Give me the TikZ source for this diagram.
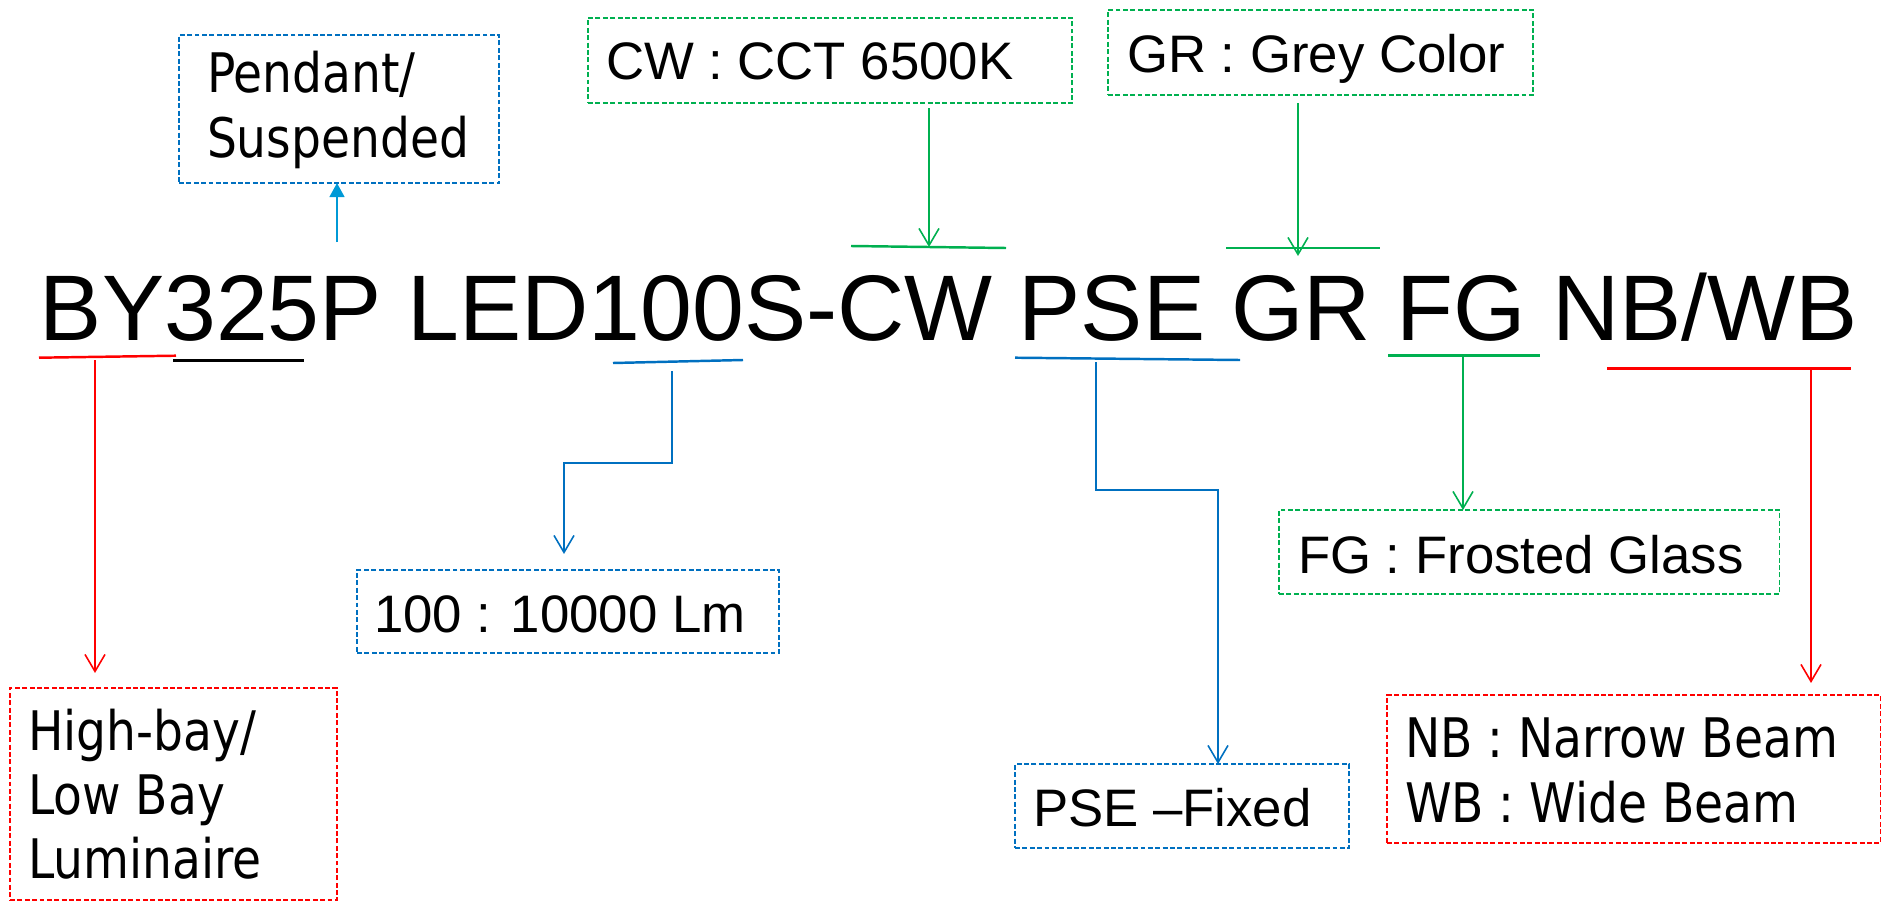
\documentclass[tikz,border=0pt]{standalone}
\usepackage{fontspec}
\setmainfont{Liberation Sans}
\newfontfamily\tahfont[FakeStretch=0.865]{DejaVu Sans}
\usetikzlibrary{arrows.meta}
\definecolor{cred}{RGB}{255,0,0}
\definecolor{cblue}{RGB}{0,112,192}
\definecolor{cgreen}{RGB}{0,176,80}
\definecolor{clight}{RGB}{0,153,214}

\begin{document}
\begin{tikzpicture}[x=0.01cm,y=-0.01cm,
	every node/.style={inner sep=0pt,outer sep=0pt},
	txt/.style={anchor=base west,font=\fontsize{15}{18}\selectfont},
	ttxt/.style={anchor=base west,font=\tahfont\fontsize{15.5}{18}\selectfont},
	tagbox/.style={draw=#1,line width=0.45pt,dash pattern=on 1.4pt off 0.7pt,anchor=north west},
	uline/.style={draw=#1,line width=0.7pt},
	conn/.style={draw=#1,line width=0.45pt},
	barb/.style={-{Straight Barb[length=0.17cm,width=0.2cm]}}]
\useasboundingbox (0,0) rectangle (1881,906);
%
\node[anchor=base west,font=\fontsize{26.5}{30}\selectfont] (code) at (40,340) {BY325P LED100S-CW PSE GR FG NB/WB};
%
\node[tagbox=cblue,minimum width=3.20cm,minimum height=1.48cm] (pend) at (179,35) {};
\node[ttxt] (pend-a) at (207,93) {Pendant/};
\node[ttxt] (pend-b) at (207,157) {Suspended};
\node[tagbox=cgreen,minimum width=4.84cm,minimum height=0.85cm] (cwbox) at (588,18) {};
\node[txt] (cw-a) at (606,80) {CW : CCT 6500K};
\node[tagbox=cgreen,minimum width=4.25cm,minimum height=0.85cm] (grbox) at (1108,10) {};
\node[txt] (gr-a) at (1127,72) {GR : Grey Color};
\node[tagbox=cblue,minimum width=4.22cm,minimum height=0.83cm] (lmbox) at (357,570) {};
\node[txt] (lm-a) at (374,632) {100 : 10000 Lm};
\node[tagbox=cgreen,minimum width=5.00cm,minimum height=0.84cm] (fgbox) at (1279,510) {};
\node[txt] (fg-a) at (1298,573) {FG : Frosted Glass};
\node[tagbox=cblue,minimum width=3.34cm,minimum height=0.84cm] (fix) at (1015,764) {};
\node[txt] (fix-a) at (1033,826) {PSE –Fixed};
\node[tagbox=cred,minimum width=3.27cm,minimum height=2.12cm] (lum) at (10,688) {};
\node[ttxt] (lum-a) at (28,750) {High-bay/};
\node[ttxt] (lum-b) at (28,814) {Low Bay};
\node[ttxt] (lum-c) at (28,878) {Luminaire};
\node[tagbox=cred,minimum width=4.93cm,minimum height=1.48cm] (nbbox) at (1387,695) {};
\node[ttxt] (nb-a) at (1405,757) {NB : Narrow Beam};
\node[ttxt] (nb-b) at (1405,822) {WB : Wide Beam};
%
\coordinate (by) at (95,360);
\coordinate (p) at (337,242);
\coordinate (lm) at (672,371);
\coordinate (lm-k) at (564,463);
\coordinate (cw) at (929,247);
\coordinate (gr) at (1298,256);
\coordinate (pse) at (1096,362);
\coordinate (pse-k) at (1218,490);
\coordinate (fg) at (1463,357);
\coordinate (nb) at (1811,370);
%
\draw[uline=cred] (39,357.7) -- (176,355.7);
\draw[uline=black] (173,360.7) -- (304,360.7);
\draw[uline=cblue] (613,363) -- (743,360);
\draw[uline=cgreen] (851,246) -- (1006,248);
\draw[uline=cgreen] (1226,248) -- (1380,248);
\draw[uline=cblue] (1015,357.7) -- (1240,360);
\draw[uline=cgreen] (1388,355.7) -- (1540,355.7);
\draw[uline=cred] (1607,368.7) -- (1851,368.7);
%
\draw[conn=cred,barb,shorten >=0.15cm] (by) -- (by |- lum.north);
\draw[conn=clight,-{Triangle[length=0.14cm,width=0.15cm]}] (p) -- (p |- pend.south);
\draw[conn=cblue,barb,shorten >=0.16cm] (lm) |- (lm-k) -- (lm-k |- lmbox.north);
\draw[conn=cgreen,barb,shorten <=0.05cm] (cw |- cwbox.south) -- (cw);
\draw[conn=cgreen,barb,shorten <=0.08cm] (gr |- grbox.south) -- (gr);
\draw[conn=cblue,barb] (pse) |- (pse-k) -- (pse-k |- fix.north);
\draw[conn=cgreen,barb] (fg) -- (fg |- fgbox.north);
\draw[conn=cred,barb,shorten >=0.12cm] (nb) -- (nb |- nbbox.north);
\end{tikzpicture}
\end{document}
